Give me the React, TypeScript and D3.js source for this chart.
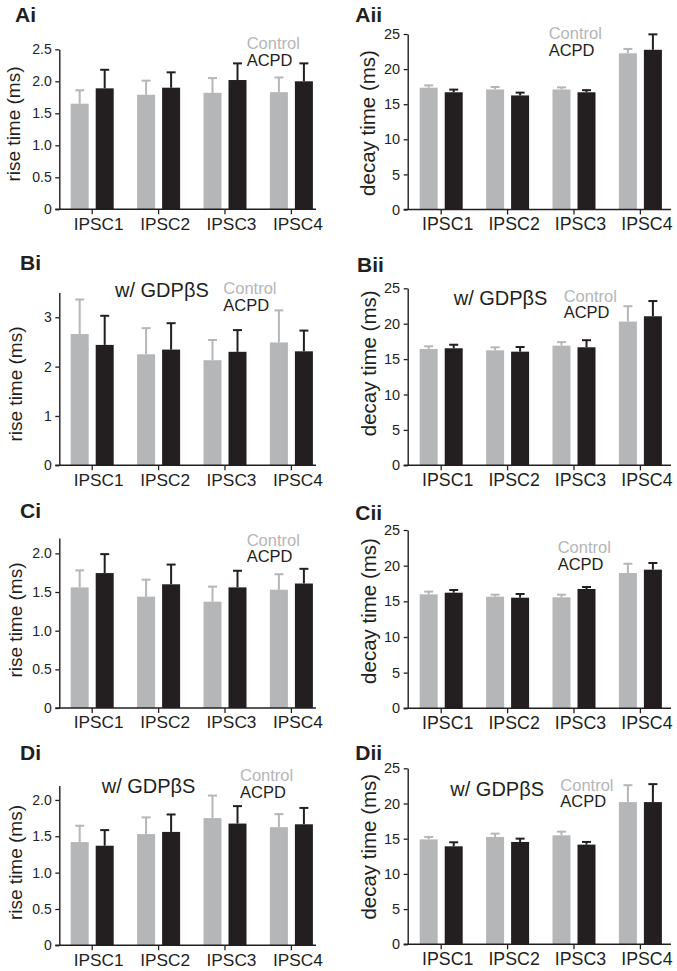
import { useEffect, useRef } from 'react';
import * as d3 from 'd3';

const categories = ['IPSC1', 'IPSC2', 'IPSC3', 'IPSC4'];
const seriesNames = ['Control', 'ACPD'];

// rise / decay means and SEM
const aiControl = [1.65, 1.79, 1.82, 1.83];
const aiControlSem = [0.21, 0.22, 0.23, 0.23];
const aiAcpd = [1.89, 1.9, 2.02, 2.0];
const aiAcpdSem = [0.29, 0.24, 0.26, 0.28];

const aiiControl = [17.35, 17.1, 17.1, 22.25];
const aiiControlSem = [0.33, 0.35, 0.3, 0.62];
const aiiAcpd = [16.7, 16.25, 16.7, 22.75];
const aiiAcpdSem = [0.38, 0.4, 0.3, 2.2];

const biControl = [2.66, 2.25, 2.13, 2.49];
const biControlSem = [0.7, 0.53, 0.41, 0.65];
const biAcpd = [2.44, 2.345, 2.3, 2.31];
const biAcpdSem = [0.59, 0.535, 0.44, 0.42];

const biiControl = [16.43, 16.24, 16.9, 20.3];
const biiControlSem = [0.38, 0.43, 0.5, 2.17];
const biiAcpd = [16.53, 16.05, 16.67, 21.05];
const biiAcpdSem = [0.5, 0.66, 1.0, 2.15];

const ciControl = [1.56, 1.44, 1.375, 1.53];
const ciControlSem = [0.22, 0.22, 0.195, 0.2];
const ciAcpd = [1.745, 1.6, 1.56, 1.61];
const ciAcpdSem = [0.245, 0.255, 0.215, 0.19];

const ciiControl = [15.98, 15.65, 15.56, 18.97];
const ciiControlSem = [0.38, 0.28, 0.37, 1.3];
const ciiAcpd = [16.21, 15.51, 16.73, 19.44];
const ciiAcpdSem = [0.38, 0.52, 0.28, 0.93];

const diControl = [1.42, 1.53, 1.75, 1.625];
const diControlSem = [0.225, 0.23, 0.31, 0.18];
const diAcpd = [1.37, 1.56, 1.675, 1.665];
const diAcpdSem = [0.215, 0.24, 0.24, 0.225];

const diiControl = [14.9, 15.25, 15.48, 20.2];
const diiControlSem = [0.35, 0.47, 0.52, 2.4];
const diiAcpd = [13.92, 14.54, 14.16, 20.2];
const diiAcpdSem = [0.57, 0.47, 0.38, 2.55];

const riseTicksA = [0, 0.5, 1, 1.5, 2, 2.5];
const riseTicksB = [0, 1, 2, 3];
const riseTicksC = [0, 0.5, 1, 1.5, 2];
const decayTicks = [0, 5, 10, 15, 20, 25];

const GRAY = '#b5b6b8';
const BLACK = '#231f20';
const FONT = '"Liberation Sans", Arial, Helvetica, sans-serif';

const STEP = 66.4;
const GROUP_W = 43;

const COLS = {
    left: { axisX: 59.3, xEnd: 316, barStart: 70.7, tickFont: 14, yLabelFont: 19, xFont: 17.3 },
    right: { axisX: 407.7, xEnd: 671, barStart: 419.7, tickFont: 14.5, yLabelFont: 20.5, xFont: 17.8 },
};

interface PanelDef {
    label: string;
    side: 'left' | 'right';
    yLabel: string;
    yMax: number;
    ticks: number[];
    fmt: (d: number) => string;
    y0: number;
    yTop: number;
    control: number[];
    controlSem: number[];
    acpd: number[];
    acpdSem: number[];
    labelPos: [number, number];
    yLabelPos: [number, number];
    legendPos: [number, number];
    note?: [number, number];
}

const fmt1 = (d: number) => (d === 0 ? '0' : d3.format('.1f')(d));
const fmt0 = (d: number) => d3.format('d')(d);

const panels: PanelDef[] = [
    { label: 'Ai', side: 'left', yLabel: 'rise time (ms)', yMax: 2.5, ticks: riseTicksA, fmt: fmt1, y0: 209.3, yTop: 49.3,
        control: aiControl, controlSem: aiControlSem, acpd: aiAcpd, acpdSem: aiAcpdSem,
        labelPos: [15, 22], yLabelPos: [13, 124], legendPos: [246.7, 49.3] },
    { label: 'Aii', side: 'right', yLabel: 'decay time (ms)', yMax: 25, ticks: decayTicks, fmt: fmt0, y0: 209.5, yTop: 34,
        control: aiiControl, controlSem: aiiControlSem, acpd: aiiAcpd, acpdSem: aiiAcpdSem,
        labelPos: [355.3, 22], yLabelPos: [368, 123], legendPos: [548.7, 39.3] },
    { label: 'Bi', side: 'left', yLabel: 'rise time (ms)', yMax: 3.5, ticks: riseTicksB, fmt: fmt0, y0: 465.3, yTop: 292.6,
        control: biControl, controlSem: biControlSem, acpd: biAcpd, acpdSem: biAcpdSem,
        labelPos: [20, 270], yLabelPos: [15, 384], legendPos: [223.3, 294], note: [115, 296.7] },
    { label: 'Bii', side: 'right', yLabel: 'decay time (ms)', yMax: 25, ticks: decayTicks, fmt: fmt0, y0: 465.3, yTop: 288.3,
        control: biiControl, controlSem: biiControlSem, acpd: biiAcpd, acpdSem: biiAcpdSem,
        labelPos: [357, 271.7], yLabelPos: [368.7, 363.3], legendPos: [563.7, 301.7], note: [453.7, 305] },
    { label: 'Ci', side: 'left', yLabel: 'rise time (ms)', yMax: 2.2, ticks: riseTicksC, fmt: fmt1, y0: 708, yTop: 537.9,
        control: ciControl, controlSem: ciControlSem, acpd: ciAcpd, acpdSem: ciAcpdSem,
        labelPos: [20, 518], yLabelPos: [15.8, 620], legendPos: [246.7, 545.7] },
    { label: 'Cii', side: 'right', yLabel: 'decay time (ms)', yMax: 25, ticks: decayTicks, fmt: fmt0, y0: 708.3, yTop: 530,
        control: ciiControl, controlSem: ciiControlSem, acpd: ciiAcpd, acpdSem: ciiAcpdSem,
        labelPos: [355.3, 520], yLabelPos: [368.7, 611], legendPos: [557.7, 553.3] },
    { label: 'Di', side: 'left', yLabel: 'rise time (ms)', yMax: 2.2, ticks: riseTicksC, fmt: fmt1, y0: 945.3, yTop: 785.4,
        control: diControl, controlSem: diControlSem, acpd: diAcpd, acpdSem: diAcpdSem,
        labelPos: [20, 760], yLabelPos: [15.8, 862.5], legendPos: [240, 781], note: [101.7, 792.7] },
    { label: 'Dii', side: 'right', yLabel: 'decay time (ms)', yMax: 25, ticks: decayTicks, fmt: fmt0, y0: 944.3, yTop: 768.3,
        control: diiControl, controlSem: diiControlSem, acpd: diiAcpd, acpdSem: diiAcpdSem,
        labelPos: [355.3, 760], yLabelPos: [368.7, 846.7], legendPos: [560.3, 790.7], note: [450.3, 796] },
];

function drawPanel(svg: d3.Selection<SVGSVGElement, unknown, null, undefined>, p: PanelDef) {
    const col = COLS[p.side];
    const g = svg.append('g');

    const y = d3.scaleLinear().domain([0, p.yMax]).range([p.y0, p.yTop]);
    const pad = (STEP - GROUP_W) / STEP;
    const start = col.barStart - (STEP - GROUP_W) / 2;
    const x = d3.scaleBand<string>()
        .domain(categories)
        .range([start, start + 4 * STEP])
        .paddingInner(pad)
        .paddingOuter(pad / 2);
    const xs = d3.scaleBand<string>()
        .domain(seriesNames)
        .range([0, x.bandwidth()])
        .paddingInner(0.28);

    const series = [
        { name: 'Control', mean: p.control, sem: p.controlSem, color: GRAY },
        { name: 'ACPD', mean: p.acpd, sem: p.acpdSem, color: BLACK },
    ];

    series.forEach((s) => {
        const bx = (i: number) => x(categories[i])! + xs(s.name)!;
        const cx = (i: number) => bx(i) + xs.bandwidth() / 2;
        // error bars first, bar on top
        g.selectAll(null)
            .data(s.mean)
            .join('line')
            .attr('x1', (_, i) => cx(i))
            .attr('x2', (_, i) => cx(i))
            .attr('y1', (d) => y(d))
            .attr('y2', (d, i) => y(d + s.sem[i]))
            .attr('stroke', s.color)
            .attr('stroke-width', 2);
        g.selectAll(null)
            .data(s.mean)
            .join('line')
            .attr('x1', (_, i) => cx(i) - 4.5)
            .attr('x2', (_, i) => cx(i) + 4.5)
            .attr('y1', (d, i) => y(d + s.sem[i]))
            .attr('y2', (d, i) => y(d + s.sem[i]))
            .attr('stroke', s.color)
            .attr('stroke-width', 2);
        g.selectAll(null)
            .data(s.mean)
            .join('rect')
            .attr('x', (_, i) => bx(i))
            .attr('y', (d) => y(d))
            .attr('width', xs.bandwidth())
            .attr('height', (d) => y(0) - y(d))
            .attr('fill', s.color);
    });

    // y axis
    const yAxis = d3.axisLeft(y).tickValues(p.ticks).tickSize(4).tickSizeOuter(0).tickPadding(3.5).tickFormat((d) => p.fmt(d.valueOf()));
    const ya = g.append('g').attr('transform', `translate(${col.axisX},0)`).call(yAxis);
    ya.select('.domain').attr('stroke', BLACK).attr('stroke-width', 1.4);
    ya.selectAll('.tick line').attr('stroke', BLACK).attr('stroke-width', 1.3);
    ya.selectAll('.tick text').attr('font-family', FONT).attr('font-size', col.tickFont).attr('fill', BLACK);

    // x axis
    const xAxis = d3.axisBottom(x).tickSize(5).tickPadding(3).tickSizeOuter(0);
    const xa = g.append('g').attr('transform', `translate(0,${p.y0})`).call(xAxis);
    xa.select('.domain').remove();
    xa.selectAll('.tick line').attr('stroke', BLACK).attr('stroke-width', 1.3);
    xa.selectAll('.tick text')
        .attr('font-family', FONT)
        .attr('font-size', col.xFont)
        .attr('fill', BLACK)
        .attr('dx', 6.5);
    g.append('line')
        .attr('x1', col.axisX - 4)
        .attr('x2', col.xEnd)
        .attr('y1', p.y0)
        .attr('y2', p.y0)
        .attr('stroke', BLACK)
        .attr('stroke-width', 1.4);

    // y label
    g.append('text')
        .attr('transform', `translate(${p.yLabelPos[0]},${p.yLabelPos[1]}) rotate(-90)`)
        .attr('text-anchor', 'middle')
        .attr('dy', '0.35em')
        .attr('font-family', FONT)
        .attr('font-size', col.yLabelFont)
        .attr('fill', BLACK)
        .text(p.yLabel);

    // panel letter
    g.append('text')
        .attr('x', p.labelPos[0])
        .attr('y', p.labelPos[1])
        .attr('font-family', FONT)
        .attr('font-weight', 'bold')
        .attr('font-size', 21)
        .attr('fill', BLACK)
        .text(p.label);

    // legend
    series.forEach((s, i) => {
        g.append('text')
            .attr('x', p.legendPos[0])
            .attr('y', p.legendPos[1] + i * 16.7)
            .attr('font-family', FONT)
            .attr('font-size', 16.5)
            .attr('fill', s.color)
            .text(s.name);
    });

    if (p.note) {
        g.append('text')
            .attr('x', p.note[0])
            .attr('y', p.note[1])
            .attr('font-family', FONT)
            .attr('font-size', 20)
            .attr('fill', BLACK)
            .text('w/ GDPβS');
    }
}

export default function App() {
    const svgRef = useRef<SVGSVGElement>(null);

    useEffect(() => {
        if (!svgRef.current) return;
        const svg = d3.select(svgRef.current);
        svg.selectAll('*').remove();
        svg.append('rect').attr('width', 677).attr('height', 971).attr('fill', '#fff');
        panels.forEach((p) => drawPanel(svg, p));
    }, []);

    return (
        <svg ref={svgRef} width={677} height={971} style={{ position: 'absolute', left: 0, top: 0 }}></svg>
    );
}
